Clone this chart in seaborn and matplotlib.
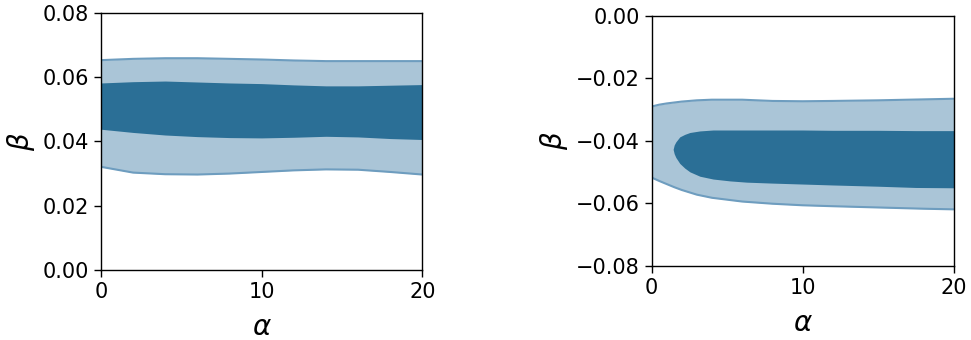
import numpy as np
import seaborn as sns
import matplotlib
matplotlib.use('Agg')
import matplotlib.pyplot as plt
from matplotlib.ticker import FuncFormatter

sns.set_style('ticks')
plt.rcParams['font.family'] = ['DejaVu Sans']
plt.rcParams['mathtext.fontset'] = 'dejavusans'
plt.rcParams['text.color'] = 'black'
plt.rcParams['axes.labelcolor'] = 'black'
plt.rcParams['xtick.color'] = 'black'
plt.rcParams['ytick.color'] = 'black'

# left panel: contour boundaries (68% inner, 95% outer)
alpha_l = [0, 2, 4, 6, 8, 10, 12, 14, 16, 18, 20]
outer_hi_l = [0.0653, 0.0657, 0.0659, 0.0659, 0.0657, 0.0655, 0.0652, 0.0650, 0.0650, 0.0650, 0.0650]
outer_lo_l = [0.0321, 0.0303, 0.0298, 0.0297, 0.0300, 0.0305, 0.0310, 0.0313, 0.0312, 0.0305, 0.0297]
inner_hi_l = [0.0582, 0.0586, 0.0588, 0.0585, 0.0582, 0.0580, 0.0576, 0.0573, 0.0573, 0.0575, 0.0577]
inner_lo_l = [0.0438, 0.0428, 0.0420, 0.0415, 0.0412, 0.0411, 0.0413, 0.0416, 0.0414, 0.0409, 0.0406]

# right panel
alpha_r_out = [0, 0.5, 1, 1.5, 2, 3, 4, 6, 8, 10, 12, 15, 18, 20]
outer_hi_r = [-0.0290, -0.0284, -0.0280, -0.0277, -0.0274, -0.0270, -0.0268, -0.0268, -0.0272, -0.0273,
              -0.0272, -0.0270, -0.0267, -0.0265]
outer_lo_r = [-0.0517, -0.0528, -0.0538, -0.0548, -0.0557, -0.0572, -0.0582, -0.0594, -0.0601, -0.0606,
              -0.0609, -0.0613, -0.0617, -0.0619]
alpha_r_in = [1.43, 1.5, 1.61, 1.87, 2.2, 2.54, 3.2, 4.08, 5.2, 6.3, 8, 10, 12, 15, 17.5, 20]
inner_hi_r = [-0.0427, -0.0413, -0.0403, -0.0387, -0.0379, -0.0373, -0.0368, -0.0365, -0.0365, -0.0365,
              -0.0365, -0.0365, -0.0366, -0.0366, -0.0367, -0.0367]
inner_lo_r = [-0.0427, -0.0441, -0.0453, -0.0472, -0.0487, -0.0499, -0.0513, -0.0522, -0.0528, -0.0532,
              -0.0535, -0.0538, -0.0541, -0.0545, -0.0549, -0.0550]

dark = '#2b6f96'
light = '#aac5d7'
edge = '#6e9dbf'

fig = plt.figure(figsize=(9.71, 3.40), dpi=100)
ax1 = fig.add_axes([0.104, 0.206, 0.331, 0.756])
ax2 = fig.add_axes([0.671, 0.218, 0.311, 0.735])


def draw(ax, a_out, lo_out, hi_out, a_in, lo_in, hi_in):
    ax.fill_between(a_out, lo_out, hi_out, color=light, lw=0)
    sns.lineplot(x=a_out, y=hi_out, ax=ax, color=edge, lw=1.5)
    sns.lineplot(x=a_out, y=lo_out, ax=ax, color=edge, lw=1.5)
    ax.fill_between(a_in, lo_in, hi_in, color=dark, lw=0)


draw(ax1, alpha_l, outer_lo_l, outer_hi_l, alpha_l, inner_lo_l, inner_hi_l)
draw(ax2, alpha_r_out, outer_lo_r, outer_hi_r, alpha_r_in, inner_lo_r, inner_hi_r)

fmt = FuncFormatter(lambda v, p: f'{v:.2f}'.replace('-', '\u2212'))
ax1.set_ylim(0, 0.08)
ax1.set_yticks([0, 0.02, 0.04, 0.06, 0.08])
ax2.set_ylim(-0.08, 0)
ax2.set_yticks([-0.08, -0.06, -0.04, -0.02, 0.0])
for ax in (ax1, ax2):
    ax.set_xlim(0, 20)
    ax.set_xticks([0, 10, 20])
    ax.tick_params(labelsize=15, length=5, width=1, color='black', labelcolor='black')
    ax.set_xlabel(r'$\alpha$', fontsize=20, labelpad=8, color='black')
    ax.set_ylabel(r'$\beta$', fontsize=20, labelpad=4, color='black')
    ax.yaxis.set_major_formatter(fmt)
    for s in ax.spines.values():
        s.set_color('black')
        s.set_linewidth(1)

fig.savefig('out.png', dpi=100)
